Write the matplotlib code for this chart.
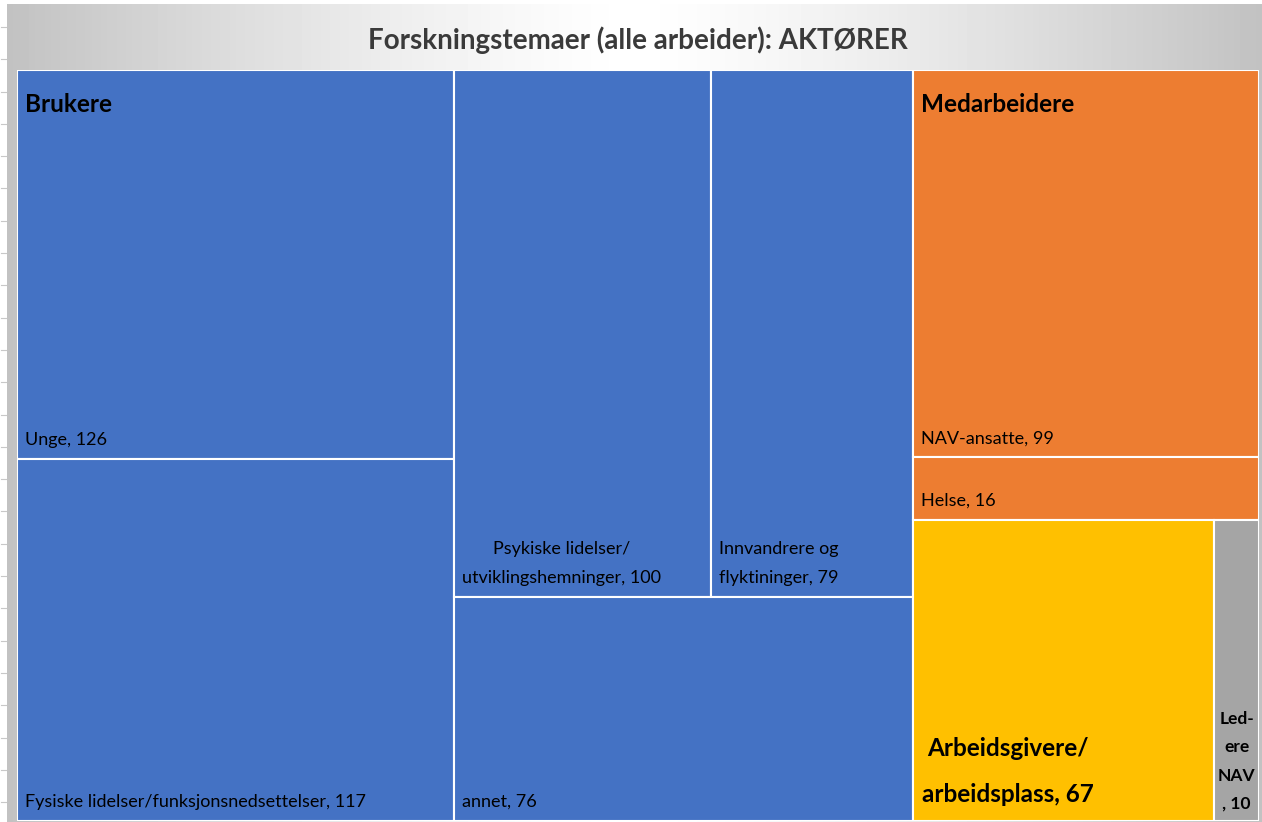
import numpy as np
import matplotlib.pyplot as plt

plt.rcParams['font.family'] = ['Lato', 'DejaVu Sans']

# Data
groups = ["Brukere", "Medarbeidere", "Arbeidsgivere/", "Ledere NAV"]
group_colors = ["#4472C4", "#ED7D31", "#FFC000", "#A5A5A5"]

leaf_labels = ["Unge, 126",
               "Fysiske lidelser/funksjonsnedsettelser, 117",
               "Psykiske lidelser/\nutviklingshemninger, 100",
               "Innvandrere og\nflyktininger, 79",
               "annet, 76",
               "NAV-ansatte, 99",
               "Helse, 16",
               "Arbeidsgivere/\narbeidsplass, 67",
               "Led-\nere\nNAV\n, 10"]
leaf_values = [126, 117, 100, 79, 76, 99, 16, 67, 10]
leaf_group = [0, 0, 0, 0, 0, 1, 1, 2, 3]

# nesting of the tiles, as Excel arranged them ('c' = side by side, 'r' = stacked)
tree = ('c', [('c', [('r', [0, 1]),
                     ('r', [('c', [2, 3]), 4])]),
              ('r', [('r', [5, 6]),
                     ('c', [7, 8])])])


def total(node):
    if isinstance(node, int):
        return leaf_values[node]
    return sum(total(n) for n in node[1])


def layout(node, x, y, w, h, out):
    if isinstance(node, int):
        out[node] = (x, y, w, h)
        return
    kind, kids = node
    s = total(node)
    for k in kids:
        f = total(k) / s
        if kind == 'c':
            layout(k, x, y, w * f, h, out)
            x += w * f
        else:
            layout(k, x, y, w, h * f, out)
            y += h * f


rects = {}
layout(tree, 0, 0, 1, 1, rects)

W, H = 1262, 822
fig = plt.figure(figsize=(W / 100, H / 100), dpi=100)

# background: horizontal grey-white-grey gradient
bg = fig.add_axes([7 / W, 0, (W - 7) / W, (H - 4) / H])
xs = np.linspace(-1, 1, 400)
grad = 0.76 + 0.24 * (1 - np.abs(xs) ** 1.3)
bg.imshow(np.tile(grad, (2, 1)), cmap='gray', vmin=0, vmax=1, aspect='auto',
          extent=[0, 1, 0, 1])
bg.axis('off')

# spreadsheet-like row ticks on far left
for yy in np.arange(27, H, 32.3):
    fig.add_artist(plt.Line2D([1 / W, 6 / W], [1 - yy / H, 1 - yy / H],
                              color="#c8c8c8", lw=0.8))

fig.text(638 / W, 1 - 40 / H, "Forskningstemaer (alle arbeider): AKTØRER",
         ha='center', va='center', fontsize=20, fontweight='bold', color="#3a3a3a")

left, top, right, bottom = 17, 70, 1259, 821
ax = fig.add_axes([left / W, 1 - bottom / H, (right - left) / W, (bottom - top) / H])
ax.set_xlim(0, 1)
ax.set_ylim(1, 0)
ax.axis('off')

for i, (x, y, w, h) in rects.items():
    ax.add_patch(plt.Rectangle((x, y), w, h, facecolor=group_colors[leaf_group[i]],
                               edgecolor='white', lw=1.5))

norm = dict(fontsize=13, color='black')
# bottom-left labels
for i in [0, 1, 4, 5, 6]:
    x, y, w, h = rects[i]
    ax.annotate(leaf_labels[i], (x, y + h), xytext=(8, 14), textcoords='offset pixels',
                ha='left', va='baseline', **norm)

for i in [2, 3]:
    x, y, w, h = rects[i]
    ha = 'center' if i == 2 else 'left'
    ax.annotate(leaf_labels[i], (x, y + h), xytext=(8, 14), textcoords='offset pixels',
                ha='left', va='baseline', multialignment=ha, linespacing=2.0, **norm)

x, y, w, h = rects[7]
ax.annotate(leaf_labels[7], (x, y + h), xytext=(9, 19), textcoords='offset pixels',
            ha='left', va='baseline', multialignment='center', linespacing=2.2,
            fontsize=17.5, fontweight='bold')

x, y, w, h = rects[8]
ax.annotate(leaf_labels[8], (x + w / 2, y + h), xytext=(0, 12), textcoords='offset pixels',
            ha='center', va='baseline', multialignment='center', linespacing=1.95,
            fontsize=12.5, fontweight='bold')

# group headers
for g, i in [(0, 0), (1, 5)]:
    x, y, w, h = rects[i]
    ax.annotate(groups[g], (x, y), xytext=(8, -42), textcoords='offset pixels',
                ha='left', va='baseline', fontsize=17.5, fontweight='bold')

fig.savefig("out.png", dpi=100)
